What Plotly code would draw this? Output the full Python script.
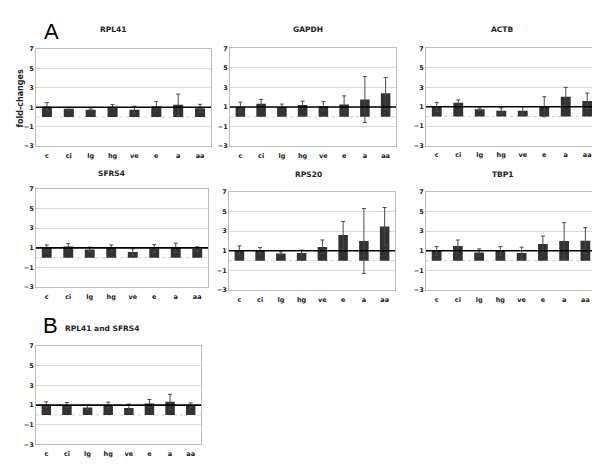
import plotly.graph_objects as go

W, H = 600, 465

categories = ["c", "ci", "lg", "hg", "ve", "e", "a", "aa"]

titles = ["RPL41", "GAPDH", "ACTB", "SFRS4", "RPS20", "TBP1", "RPL41 and SFRS4"]

rpl41_vals = [1.08, 0.85, 0.75, 1.05, 0.75, 1.10, 1.25, 0.90]
rpl41_err = [0.40, 0.15, 0.07, 0.22, 0.35, 0.50, 1.10, 0.40]

gapdh_vals = [1.00, 1.33, 1.00, 1.20, 1.10, 1.27, 1.77, 2.40]
gapdh_err = [0.50, 0.45, 0.30, 0.40, 0.45, 0.87, 2.35, 1.62]

actb_vals = [1.00, 1.40, 0.75, 0.60, 0.60, 1.00, 2.03, 1.60]
actb_err = [0.45, 0.30, 0.13, 0.28, 0.40, 1.03, 0.97, 0.80]

sfrs4_vals = [1.00, 1.13, 0.83, 1.00, 0.57, 0.93, 1.00, 0.90]
sfrs4_err = [0.30, 0.30, 0.24, 0.30, 0.33, 0.40, 0.47, 0.20]

rps20_vals = [1.00, 1.00, 0.73, 0.77, 1.40, 2.60, 2.00, 3.47]
rps20_err = [0.50, 0.33, 0.17, 0.30, 0.70, 1.40, 3.30, 1.93]

tbp1_vals = [1.00, 1.50, 0.83, 1.00, 0.77, 1.70, 2.00, 2.03]
tbp1_err = [0.43, 0.60, 0.37, 0.43, 0.60, 0.80, 1.87, 1.33]

combo_vals = [1.07, 1.00, 0.77, 1.00, 0.70, 1.17, 1.33, 1.00]
combo_err = [0.27, 0.27, 0.23, 0.30, 0.40, 0.40, 0.77, 0.23]

series = [
    (rpl41_vals, rpl41_err), (gapdh_vals, gapdh_err), (actb_vals, actb_err),
    (sfrs4_vals, sfrs4_err), (rps20_vals, rps20_err), (tbp1_vals, tbp1_err),
    (combo_vals, combo_err),
]

y_ticks = [-3, -1, 1, 3, 5, 7]

# panel boxes in pixels: (left, right, top, bottom)
boxes = [
    (28, 203, 37.5, 136.5),
    (222, 388, 37, 136.5),
    (418, 590, 37, 136),
    (28, 200, 180, 280),
    (221, 387, 183, 283),
    (418, 588, 183, 283),
    (28, 193, 340, 440),
]
# title positions (x, y) in pixels
title_pos = [(105, 18), (300, 18), (494, 18), (103, 164), (300, 165), (495, 165), (94, 322)]

FONT = "DejaVu Sans"
TICKFONT = dict(family=FONT, size=6.5, color="#1a1a1a", weight="bold")

fig = go.Figure()
shapes = []
annotations = []

for i, ((vals, errs), box) in enumerate(zip(series, boxes)):
    n = i + 1
    xa = "x" if n == 1 else f"x{n}"
    ya = "y" if n == 1 else f"y{n}"
    fig.add_trace(go.Bar(
        x=categories, y=vals, xaxis=xa, yaxis=ya,
        width=0.46,
        marker=dict(color="#333333", line=dict(width=0)),
        error_y=dict(type="data", array=errs, visible=True,
                     color="#4a4a4a", thickness=1, width=2),
        showlegend=False, hoverinfo="skip",
    ))
    l, r, t, b = box
    xkey = "xaxis" if n == 1 else f"xaxis{n}"
    ykey = "yaxis" if n == 1 else f"yaxis{n}"
    fig.layout[xkey] = dict(
        domain=[l / W, r / W], anchor=ya, type="category",
        range=[-0.5, 7.5], showgrid=False, zeroline=False,
        showline=True, linecolor="#bdbdbd", linewidth=1, mirror=True,
        ticks="", tickfont=TICKFONT, ticklabelstandoff=3,
        fixedrange=True,
    )
    fig.layout[ykey] = dict(
        domain=[1 - b / H, 1 - t / H], anchor=xa,
        range=[-3, 7], tickvals=y_ticks, showgrid=True,
        gridcolor="#d9d9d9", gridwidth=1, zeroline=False,
        showline=True, linecolor="#bdbdbd", linewidth=1, mirror=True,
        ticks="", tickfont=TICKFONT,
        fixedrange=True,
    )
    xd = "x domain" if n == 1 else f"x{n} domain"
    # baseline at zero (faint dotted)
    shapes.append(dict(type="line", xref=xd, yref=ya, x0=0, x1=1, y0=0, y1=0,
                       line=dict(color="#d0d0d0", width=1, dash="dot"), layer="below"))
    # reference line at fold-change 1
    shapes.append(dict(type="line", xref=xd, yref=ya, x0=0, x1=1, y0=1, y1=1,
                       line=dict(color="#000000", width=1.6), layer="above"))
    tx, ty = title_pos[i]
    annotations.append(dict(
        text=f"<b>{titles[i]}</b>", x=tx / W, y=1 - ty / H, xref="paper", yref="paper",
        showarrow=False, xanchor="center", yanchor="middle",
        font=dict(family=FONT, size=7.5, color="#222222"),
    ))

annotations.append(dict(text="A", x=43 / W, y=1 - 20 / H, xref="paper", yref="paper",
                        showarrow=False, xanchor="center", yanchor="middle",
                        font=dict(family="Liberation Sans", size=22, color="#000000")))
annotations.append(dict(text="B", x=42 / W, y=1 - 319 / H, xref="paper", yref="paper",
                        showarrow=False, xanchor="center", yanchor="middle",
                        font=dict(family="Liberation Sans", size=22, color="#000000")))
annotations.append(dict(text="<b>fold-changes</b>", x=12 / W, y=1 - 88 / H,
                        xref="paper", yref="paper", textangle=-90,
                        showarrow=False, xanchor="center", yanchor="middle",
                        font=dict(family=FONT, size=8, color="#222222")))

fig.update_layout(
    width=W, height=H, margin=dict(l=0, r=0, t=0, b=0),
    paper_bgcolor="white", plot_bgcolor="white",
    shapes=shapes, annotations=annotations, bargap=0.5,
)

fig.write_html("out.html")
